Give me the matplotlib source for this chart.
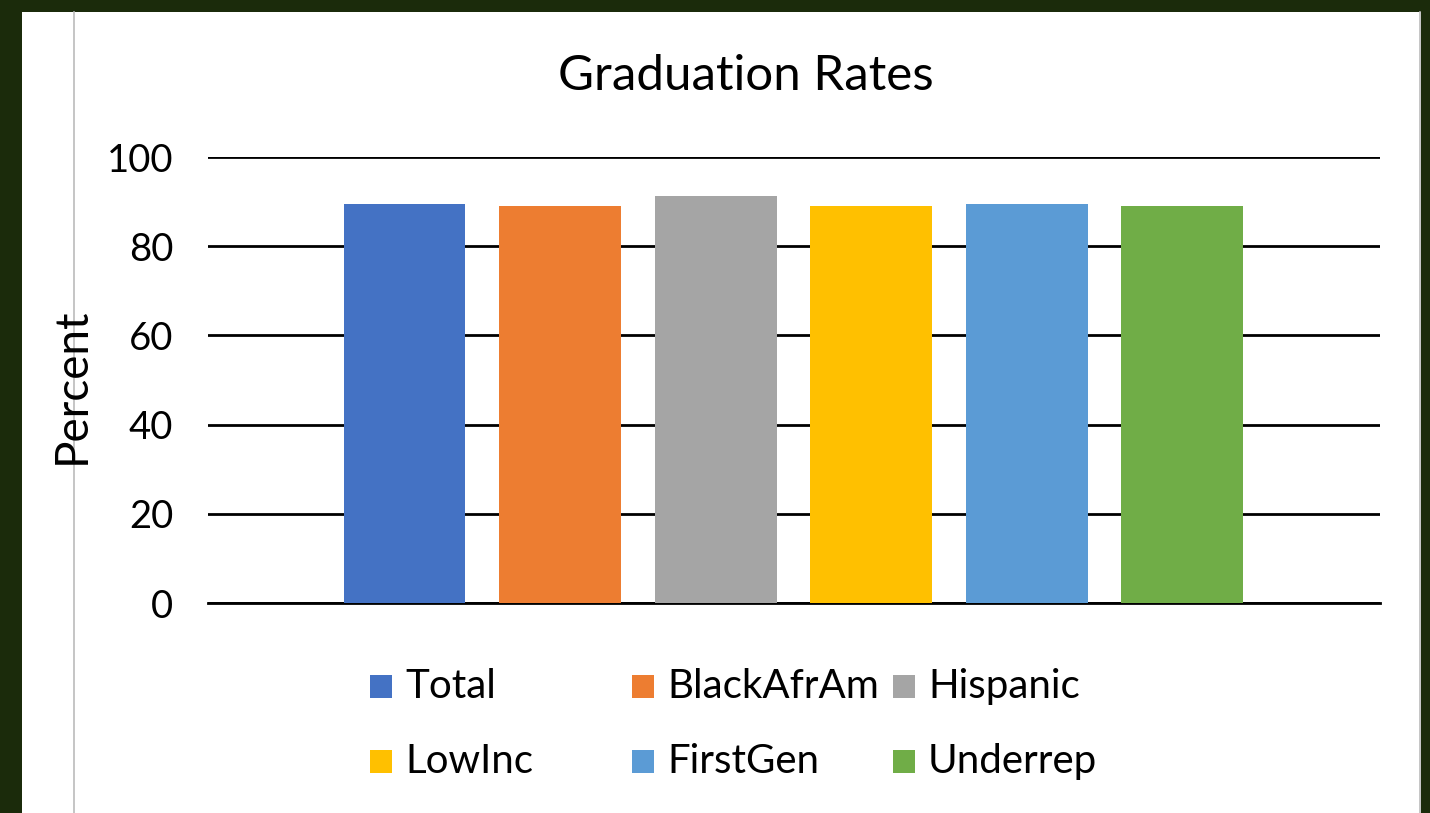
import matplotlib as mpl
import matplotlib.pyplot as plt
from matplotlib.patches import Rectangle
from matplotlib.lines import Line2D

mpl.rc('font', family=['Lato', 'DejaVu Sans'], size=27)

groups = ['Total', 'BlackAfrAm', 'Hispanic', 'LowInc', 'FirstGen', 'Underrep']
rates = [89.5, 89.1, 91.2, 89.1, 89.5, 89.1]
colors = ['#4472c4', '#ed7d31', '#a5a5a5', '#ffc000', '#5b9bd5', '#70ad47']
yticks = [0, 20, 40, 60, 80, 100]

W, H = 1430, 813
fig = plt.figure(figsize=(W / 100, H / 100), dpi=100)
fig.patch.set_facecolor('#1b2b0b')

# white panel and the thin grey lines of the screenshot
fig.add_artist(Rectangle((22 / W, 0), 1399 / W, 1 - 12 / H, transform=fig.transFigure,
                         facecolor='white', edgecolor='none', zorder=0))
fig.add_artist(Line2D([74 / W, 74 / W], [0, 1 - 12 / H], transform=fig.transFigure,
                      color='#bbbbbb', lw=1.2, zorder=0.5))
fig.add_artist(Line2D([1420 / W, 1420 / W], [0, 1 - 12 / H], transform=fig.transFigure,
                      color='#bbbbbb', lw=1.2))

ax = fig.add_axes([208 / W, 1 - 603 / H, (1380 - 208) / W, (603 - 157) / H])
ax.set_facecolor('none')

x = list(range(len(groups)))
ax.bar(x, rates, width=0.784, color=colors, zorder=3)
ax.set_xlim(-1.263, 6.27)
ax.set_ylim(0, 100)
ax.set_yticks(yticks)
ax.set_xticks([])
ax.grid(axis='y', color='black', lw=2, zorder=1)
for s in ['top', 'right', 'left']:
    ax.spines[s].set_visible(False)
ax.spines['bottom'].set_linewidth(2)
ax.tick_params(axis='y', length=0, pad=25, labelsize=27.5)

fig.text(72 / W, 1 - 386 / H, 'Percent', rotation=90, ha='center', va='center', fontsize=33)
fig.text(746 / W, 1 - 76 / H, 'Graduation Rates', ha='center', va='center', fontsize=35.5)

# legend laid out like the Excel one: 3 equal columns, 2 rows
col_x = [370, 632, 893]
row_y = [686, 761]
for i, (name, c) in enumerate(zip(groups, colors)):
    cx = col_x[i % 3]
    cy = row_y[i // 3]
    fig.add_artist(Rectangle((cx / W, 1 - (cy + 12) / H), 22 / W, 23 / H,
                             transform=fig.transFigure, facecolor=c, edgecolor='none'))
    fig.text((cx + 35) / W, 1 - cy / H, name, ha='left', va='center', fontsize=29)

fig.savefig('out.png', dpi=100, facecolor=fig.get_facecolor())
